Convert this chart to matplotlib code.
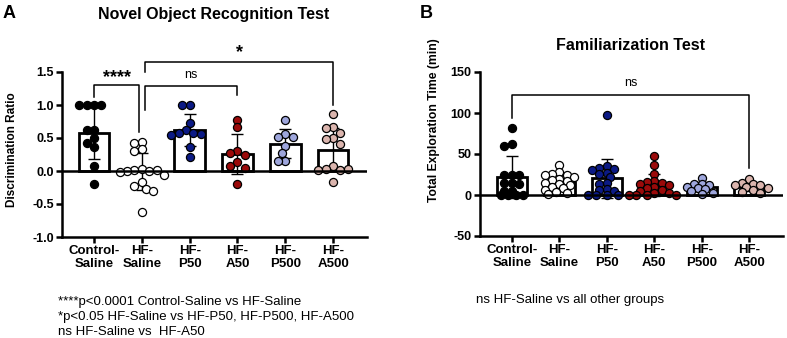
import numpy as np
import matplotlib
matplotlib.use("Agg")
import matplotlib.pyplot as plt

plt.rcParams['font.family'] = ['Liberation Sans', 'DejaVu Sans']

groups = ["Control-\nSaline", "HF-\nSaline", "HF-\nP50", "HF-\nA50", "HF-\nP500", "HF-\nA500"]
colors = ["#000000", "#ffffff", "#0b1a85", "#9b0a0a", "#9ea6dc", "#dbb5ae"]

# discrimination ratio (panel A)
nor_ctrl = [1.0, 1.0, 1.0, 1.0, 0.62, 0.62, 0.5, 0.42, 0.36, 0.08, -0.2]
nor_hfsal = [0.44, 0.42, 0.33, 0.31, 0.03, 0.02, 0.0, 0.0, 0.01, -0.02, -0.06,
             -0.17, -0.22, -0.27, -0.31, -0.62]
nor_p50 = [1.0, 1.0, 0.72, 0.62, 0.58, 0.58, 0.56, 0.55, 0.36, 0.21]
nor_a50 = [0.77, 0.66, 0.30, 0.27, 0.25, 0.14, 0.07, 0.05, -0.19]
nor_p500 = [0.77, 0.56, 0.51, 0.51, 0.38, 0.28, 0.15, 0.15]
nor_a500 = [0.86, 0.66, 0.65, 0.58, 0.50, 0.49, 0.41, 0.08, 0.03, 0.02, 0.02, 0.03, -0.16]

# total exploration time (panel B)
fam_ctrl = [82, 62, 60, 25, 25, 25, 15, 15, 14, 5, 5, 0, 0, 0, 0]
fam_hfsal = [36, 28, 26, 25, 24, 22, 20, 18, 17, 15, 13, 12, 10, 8, 6, 4, 2, 1]
fam_p50 = [98, 35, 33, 32, 30, 27, 26, 22, 15, 14, 7, 6, 5, 0, 0, 0, 0]
fam_a50 = [48, 37, 26, 17, 16, 15, 14, 12, 10, 8, 6, 5, 3, 2, 0, 0, 0, 0]
fam_p500 = [21, 14, 13, 12, 10, 8, 7, 5, 3, 1]
fam_a500 = [19, 15, 13, 12, 12, 10, 8, 6, 4, 2]

nor_data = [nor_ctrl, nor_hfsal, nor_p50, nor_a50, nor_p500, nor_a500]
fam_data = [fam_ctrl, fam_hfsal, fam_p50, fam_a50, fam_p500, fam_a500]

W, H = 787, 338


def swarm(vals, py_per_unit, px_per_x, d=7.4, gap=0.95):
    # simple beeswarm in pixel space
    placed = []
    cands = [0.0]
    for k in range(1, 14):
        cands += [-k * d / 2, k * d / 2]
    for v in vals:
        y = v * py_per_unit
        for c in cands:
            if all((c - px) ** 2 + (y - py) ** 2 >= (d * gap) ** 2 for px, py in placed):
                break
        placed.append((c, y))
    return np.array([p[0] for p in placed]) / px_per_x


def panel(ax, data, ylim, yticks, yfmt, py_per_unit, px_per_x, gap):
    x = np.arange(len(data))
    means = [np.mean(d) for d in data]
    sds = [np.std(d, ddof=1) for d in data]
    ax.bar(x, means, width=0.64, color="white", edgecolor="black", linewidth=2.0, zorder=2)
    ax.errorbar(x, means, yerr=sds, fmt="none", ecolor="black", elinewidth=1.0,
                capsize=4.5, capthick=1.0, zorder=3)
    for i, d in enumerate(data):
        off = swarm(d, py_per_unit, px_per_x, gap=gap)
        ax.scatter(x[i] + off, d, s=34, color=colors[i], edgecolors="black",
                   linewidths=0.9, zorder=4, clip_on=False)
    ax.axhline(0, color="black", linewidth=1.8, zorder=5)
    ax.set_ylim(*ylim)
    ax.set_xlim(-0.67, 5.71)
    ax.set_yticks(yticks)
    ax.set_yticklabels([yfmt.format(t) for t in yticks], fontsize=9, fontweight="bold")
    ax.set_xticks(x)
    ax.set_xticklabels(groups, fontsize=9.5, fontweight="bold", linespacing=1.05)
    for s in ["top", "right"]:
        ax.spines[s].set_visible(False)
    for s in ["left", "bottom"]:
        ax.spines[s].set_linewidth(1.8)
    ax.tick_params(axis="both", width=1.8, length=4, pad=2)


def bracket(ax, x1, x2, y, yl, yr, text, ty, size, weight="normal"):
    ax.plot([x1, x1, x2, x2], [yl, y, y, yr], color="black", linewidth=1.1,
            clip_on=False, zorder=6)
    ax.text((x1 + x2) / 2, ty, text, ha="center", va="center", fontsize=size,
            fontweight=weight, clip_on=False)


fig = plt.figure(figsize=(W / 100, H / 100), dpi=100)
axA = fig.add_axes([62 / W, 1 - 237 / H, 305 / W, 165 / H])
axB = fig.add_axes([480 / W, 1 - 236 / H, 303 / W, 164 / H])

panel(axA, nor_data, (-1.0, 1.5), [-1.0, -0.5, 0.0, 0.5, 1.0, 1.5], "{:.1f}", 66.0, 47.8, 0.95)
panel(axB, fam_data, (-50, 150), [-50, 0, 50, 100, 150], "{:d}", 0.822, 47.7, 0.72)

fig.text(12 / W, 1 - 150 / H, "Discrimination Ratio", rotation=90,
         ha="center", va="center", fontsize=8.5, fontweight="bold")
fig.text(434 / W, 1 - 120 / H, "Total Exploration Time (min)", rotation=90,
         ha="center", va="center", fontsize=8.7, fontweight="bold")

bracket(axA, 0.0, 0.95, 1.30, 1.12, 0.59, "****", 1.42, 13, "bold")
bracket(axA, 1.07, 3.0, 1.29, 0.92, 1.15, "ns", 1.45, 9)
bracket(axA, 1.07, 5.0, 1.65, 1.50, 1.0, "*", 1.80, 13, "bold")
bracket(axB, 0.0, 5.0, 122, 94, 33, "ns", 137, 9)

fig.text(9 / W, 1 - 14 / H, "A", fontsize=13, fontweight="bold", ha="center", va="center")
fig.text(426 / W, 1 - 14 / H, "B", fontsize=13, fontweight="bold", ha="center", va="center")
fig.text(214 / W, 1 - 15 / H, "Novel Object Recognition Test", fontsize=11.5,
         fontweight="bold", ha="center", va="center")
fig.text(631 / W, 1 - 45 / H, "Familiarization Test", fontsize=11.5,
         fontweight="bold", ha="center", va="center")

notes = ["****p<0.0001 Control-Saline vs HF-Saline",
         "*p<0.05 HF-Saline vs HF-P50, HF-P500, HF-A500",
         "ns HF-Saline vs  HF-A50"]
for i, t in enumerate(notes):
    fig.text(58 / W, 1 - (302 + 15 * i) / H, t, fontsize=9.5, ha="left", va="center")
fig.text(476 / W, 1 - 300 / H, "ns HF-Saline vs all other groups", fontsize=9.5,
         ha="left", va="center")

fig.savefig("out.png", dpi=100)
